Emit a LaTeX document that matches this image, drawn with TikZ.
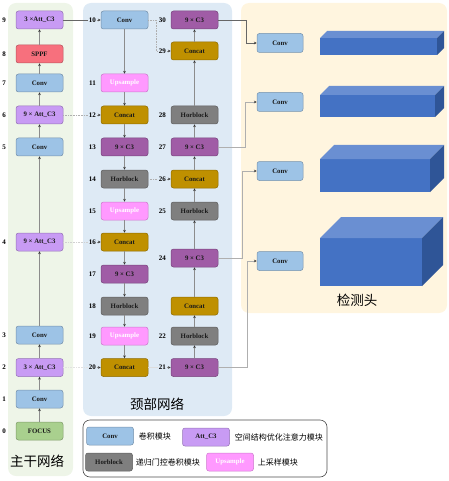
\documentclass[tikz,border=0pt]{standalone}
\usepackage{fontspec}
\setmainfont{Liberation Serif}
\newfontfamily\cjk{Noto Sans CJK SC}
\usepackage{xcolor}
\usepackage{tikz}
\usetikzlibrary{positioning,arrows.meta,calc}
\definecolor{convblue}{HTML}{9DC3E6}
\definecolor{attpurple}{HTML}{C89BF4}
\definecolor{sppfred}{HTML}{F7707D}
\definecolor{focusgreen}{HTML}{A9D08E}
\definecolor{cviolet}{HTML}{A05CA6}
\definecolor{concatgold}{HTML}{BF9000}
\definecolor{horgray}{HTML}{7F7F7F}
\definecolor{uppink}{HTML}{FF99FF}
\definecolor{backbg}{HTML}{EEF5E8}
\definecolor{neckbg}{HTML}{DEEAF5}
\definecolor{headbg}{HTML}{FFF5DF}
\definecolor{cubefront}{HTML}{4472C4}
\definecolor{cubetop}{HTML}{6A8FD2}
\definecolor{cubeside}{HTML}{2F5597}
\definecolor{wire}{HTML}{8C8C8C}
\tikzset{
    block/.style={rectangle, draw, rounded corners=2.5pt, minimum width=47pt, minimum height=18pt, inner sep=1pt, align=center, font=\fontsize{6.8}{8}\selectfont\bfseries, line width=0.5pt, text=black!90},
    conv/.style={block, fill=convblue, draw=convblue!75!black},
    att/.style={block, fill=attpurple, draw=attpurple!75!black},
    sppf/.style={block, fill=sppfred, draw=sppfred!75!black},
    focus/.style={block, fill=focusgreen, draw=focusgreen!75!black},
    cthree/.style={block, fill=cviolet, draw=cviolet!75!black},
    concat/.style={block, fill=concatgold, draw=concatgold!75!black},
    horblock/.style={block, fill=horgray, draw=horgray!75!black},
    upsample/.style={block, fill=uppink, draw=uppink!80!black, text=white},
    num/.style={font=\fontsize{7}{8}\selectfont\bfseries, inner sep=0.8pt},
    panel/.style={rectangle, rounded corners=8pt},
    arrow/.style={-{Stealth[length=2.8pt, width=2.6pt, color=black!80]}, color=wire, line width=0.6pt},
    link/.style={color=wire, line width=0.6pt},
    dotlink/.style={link, densely dotted, color=wire!70},
    caption/.style={font=\cjk\fontsize{13.5}{15}\selectfont},
    legtext/.style={font=\cjk\fontsize{8}{9}\selectfont, inner sep=0pt}
}

\begin{document}
\begin{tikzpicture}[x=1pt, y=-1pt]
\useasboundingbox (0,0) rectangle (448,481);

% panels
\fill[backbg, panel] (8,3) rectangle (73,476);
\fill[neckbg, panel] (83,3) rectangle (232,416);
\fill[headbg, panel] (241,3) rectangle (447,313);

% backbone
\node[focus] (b0) at (39.5,431) {FOCUS};
\node[conv] (b1) at (39.5,399) {Conv};
\node[att] (b2) at (39.5,367.5) {3 × Att\_C3};
\node[conv] (b3) at (39.5,335) {Conv};
\node[att] (b4) at (39.5,242) {9 × Att\_C3};
\node[conv] (b5) at (39.5,147) {Conv};
\node[att] (b6) at (39.5,115) {9 × Att\_C3};
\node[conv] (b7) at (39.5,83) {Conv};
\node[sppf] (b8) at (39.5,54) {SPPF};
\node[att] (b9) at (39.5,20) {3 ×Att\_C3};
\foreach \i in {0,...,9}
    \node[num, left=9pt of b\i] (lb\i) {\i};

% neck
\node[conv] (n10) at (124.5,20) {Conv};
\node[upsample] (n11) at (124.5,83) {Upsample};
\node[concat] (n12) at (124.5,115) {Concat};
\node[cthree] (n13) at (124.5,147) {9 × C3};
\node[horblock] (n14) at (124.5,179) {Horblock};
\node[upsample] (n15) at (124.5,211) {Upsample};
\node[concat] (n16) at (124.5,242) {Concat};
\node[cthree] (n17) at (124.5,274) {9 × C3};
\node[horblock] (n18) at (124.5,306) {Horblock};
\node[upsample] (n19) at (124.5,336) {Upsample};
\node[concat] (n20) at (124.5,367.5) {Concat};
\node[cthree] (n21) at (194.5,367.5) {9 × C3};
\node[horblock] (n22) at (194.5,336) {Horblock};
\node[concat] (n23) at (194.5,306) {Concat};
\node[cthree] (n24) at (194.5,258) {9 × C3};
\node[horblock] (n25) at (194.5,211) {Horblock};
\node[concat] (n26) at (194.5,179) {Concat};
\node[cthree] (n27) at (194.5,147) {9 × C3};
\node[horblock] (n28) at (194.5,115) {Horblock};
\node[concat] (n29) at (194.5,51) {Concat};
\node[cthree] (n30) at (194.5,20) {9 × C3};
\foreach \i in {10,...,22,24,25,26,27,28,29,30}
    \node[num, left=4pt of n\i] (l\i) {\i};

% head
\node[conv, minimum width=46pt, minimum height=19pt] (h1) at (280,43) {Conv};
\node[conv, minimum width=46pt, minimum height=19pt] (h2) at (280,102) {Conv};
\node[conv, minimum width=46pt, minimum height=19pt] (h3) at (280,171) {Conv};
\node[conv, minimum width=46pt, minimum height=19pt] (h4) at (280,261) {Conv};

\foreach \x/\y/\w/\h/\d in {320/38/117/17/7, 320/95/115/22/9, 320/159/110/33/14, 320/238/102/48/21}{
    \fill[cubefront] (\x,\y) rectangle ++(\w,\h);
    \fill[cubetop] (\x,\y) -- ++(\d,-\d) -- ++(\w,0) -- ++(-\d,\d) -- cycle;
    \fill[cubeside] (\x+\w,\y) -- ++(\d,-\d) -- ++(0,\h) -- ++(-\d,\d) -- cycle;
}

% connectors
\foreach \a/\b in {0/1,1/2,2/3,3/4,4/5,5/6,6/7,7/8,8/9}
    \draw[arrow] (b\a) -- (b\b);
\foreach \a/\b in {10/11,11/12,12/13,13/14,14/15,15/16,16/17,17/18,18/19,19/20,21/22,22/23,23/24,24/25,25/26,26/27,27/28,28/29,29/30}
    \draw[arrow] (n\a) -- (n\b);

\draw[link, color=black!60] (b9) -- (l10);
\draw[arrow] (l10) -- (n10);
\draw[dotlink] (b6) -- (l12);
\draw[arrow] (l12) -- (n12);
\draw[dotlink, color=wire!40] (b4) -- (l16);
\draw[arrow] (l16) -- (n16);
\draw[dotlink, color=wire!25] (b2) -- (l20);
\draw[arrow] (l20) -- (n20);
\draw[link, color=wire!30] (n20) -- (l21);
\draw[arrow] (l21) -- (n21);
\draw[dotlink] (n14) -- (l26);
\draw[arrow] (l26) -- (n26);
\draw[dotlink] (n10.east) -- ++(8,0) |- (l29);
\draw[arrow] (l29) -- (n29);

\draw[arrow, color=black!60] (n30.east) -- ++(28,0) |- (h1);
\draw[arrow, color=wire!70] (n27.east) -- ++(27,0) |- (h2);
\draw[arrow, color=wire!70] (n24.east) -- ++(24,0) |- (h3);
\draw[arrow, color=wire!70] (n21.east) -- ++(29,0) |- (h4);

% captions
\node[caption] (capback) at (37,461) {主干网络};
\node[caption] (capneck) at (157,404) {颈部网络};
\node[caption] (caphead) at (357,300) {检测头};

% legend
\draw[black!70, line width=0.6pt, rounded corners=7pt] (83,420) rectangle (327,477);
\node[conv] (kconv) at (110,436) {Conv};
\node[legtext, right=5pt of kconv] (tconv) {卷积模块};
\node[att] (katt) at (206,437) {Att\_C3};
\node[legtext, right=5pt of katt] (tatt) {空间结构优化注意力模块};
\node[horblock] (khor) at (109,462) {Horblock};
\node[legtext, right=3pt of khor] (thor) {递归门控卷积模块};
\node[upsample] (kup) at (230,462) {Upsample};
\node[legtext, right=4pt of kup] (tup) {上采样模块};

\end{tikzpicture}
\end{document}
